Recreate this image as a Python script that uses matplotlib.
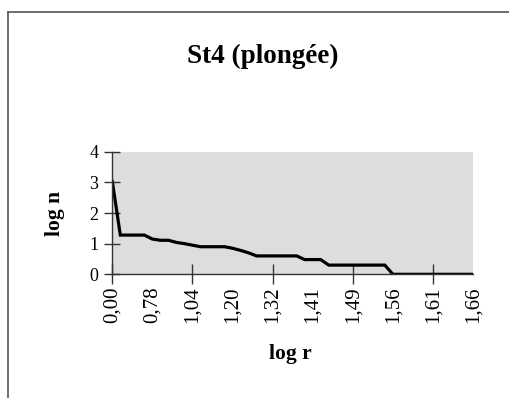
"""Rank-abundance curve for station St4 (plongée)."""

import matplotlib
matplotlib.use("Agg")
import matplotlib.pyplot as plt
from matplotlib.lines import Line2D
import numpy as np

# log n for each rank, in rank order (46 taxa)
log_n = [
    3.03, 1.28, 1.28, 1.28, 1.28, 1.15, 1.11, 1.11, 1.04, 1.00,
    0.95, 0.90, 0.90, 0.90, 0.90, 0.85, 0.78, 0.70, 0.60, 0.60,
    0.60, 0.60, 0.60, 0.60, 0.48, 0.48, 0.48, 0.30, 0.30, 0.30,
    0.30, 0.30, 0.30, 0.30, 0.30, 0.00, 0.00, 0.00, 0.00, 0.00,
    0.00, 0.00, 0.00, 0.00, 0.00, 0.00,
]
# category labels shown every fifth rank
log_r_labels = ["0,00", "0,78", "1,04", "1,20", "1,32",
                "1,41", "1,49", "1,56", "1,61", "1,66"]
y_ticks = [0, 1, 2, 3, 4]

SERIF = ["Liberation Serif", "DejaVu Serif"]
plt.rcParams.update({
    "font.family": SERIF,
    "axes.linewidth": 1.0,
})

fig = plt.figure(figsize=(5.10, 3.98), dpi=100)
fig.patch.set_facecolor("white")

# chart frame (left and top edges)
fx = 8 / 510
fy = 1 - 12 / 398
fig.add_artist(Line2D([fx, fx], [0, fy], color="#555555", lw=1.2))
fig.add_artist(Line2D([fx, 1], [fy, fy], color="#555555", lw=1.2))

ax = fig.add_axes([0.2202, 0.3108, 0.7073, 0.3080])
ax.set_facecolor("#dddddd")

x = np.arange(len(log_n))
ax.plot(x, log_n, color="black", linewidth=2.3, solid_joinstyle="miter")

ax.set_xlim(0, len(log_n) - 1)
ax.set_ylim(0, 4)

for side in ("top", "right"):
    ax.spines[side].set_visible(False)
for side in ("left", "bottom"):
    ax.spines[side].set_color("#333333")

ax.set_yticks(y_ticks)
ax.set_yticklabels([str(v) for v in y_ticks], fontsize=13)
ax.tick_params(axis="y", direction="inout", length=12, width=1.0,
               color="#333333", pad=4)

# labels every 5 ranks (no mark), tick marks every 10 ranks
ax.xaxis.remove_overlapping_locs = False
ax.set_xticks(x[::5])
ax.set_xticklabels(log_r_labels, rotation=90, fontsize=15)
ax.tick_params(axis="x", which="major", length=0, pad=9)
ax.set_xticks(x[::10], minor=True)
ax.tick_params(axis="x", which="minor", direction="inout", length=14,
               width=1.0, color="#333333", labelbottom=False)

fig.text(262.5 / 510, 1 - 63.3 / 398, "St4 (plongée)", ha="center",
         va="baseline", fontsize=19.5, fontweight="bold")
fig.text(55 / 510, 1 - 213 / 398, "log n", ha="center", va="center",
         rotation=90, fontsize=15.5, fontweight="bold")
fig.text(290 / 510, 1 - 354 / 398, "log r", ha="center", va="center",
         fontsize=15.5, fontweight="bold")

fig.savefig("out.png", dpi=100)
plt.close(fig)
